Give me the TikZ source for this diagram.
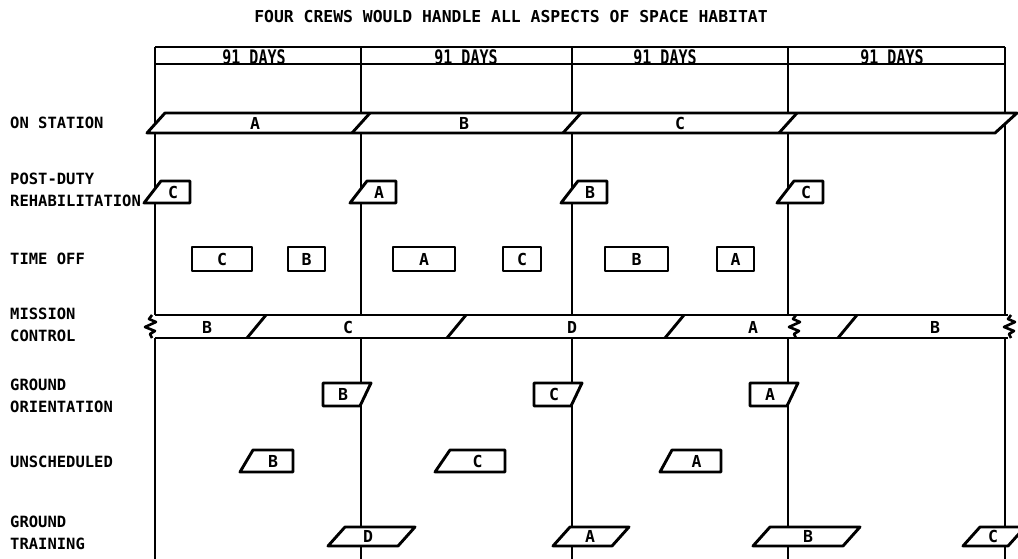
\documentclass[tikz,border=0pt]{standalone}
\usepackage{fontspec}
\usepackage{tikz}
\newfontfamily\chartfont{DejaVu Sans Mono}
\newfontfamily\daysfont[FakeStretch=0.75]{DejaVu Sans Mono}

\begin{document}
\begin{tikzpicture}[x=1pt,y=-1pt,
  frame/.style={line width=2.7pt},
  bar/.style={draw,line width=2.9pt,fill=white,line join=round},
  crew/.style={font=\chartfont\bfseries\fontsize{16.5}{16.5}\selectfont,inner sep=0pt},
  days/.style={font=\daysfont\bfseries\fontsize{20}{20}\selectfont,inner sep=0pt},
  rowlabel/.style={font=\chartfont\bfseries\fontsize{15.5}{22}\selectfont,
    anchor=west,align=left,inner sep=0pt}]
  \useasboundingbox (0,0) rectangle (1018,559);
  \clip (0,0) rectangle (1018,559);

  % title
  \node[font=\chartfont\bfseries\fontsize{16.4}{16.4}\selectfont,inner sep=0pt]
    (title) at (511,17) {FOUR CREWS WOULD HANDLE ALL ASPECTS OF SPACE HABITAT};

  % frame and quarter lines
  \draw[frame] (155,47) -- (1005,47);
  \draw[frame] (155,64) -- (1005,64);
  \foreach \v in {155,361,572,788,1005}
    \draw[frame] (\v,47) -- (\v,559);

  % quarter headings
  \foreach \x [count=\i] in {254,466,665,892}
    \node[days] (days\i) at (\x,57) {91 DAYS};

  % row labels
  \node[rowlabel] (lbl-station) at (10,123) {ON STATION};
  \node[rowlabel] (lbl-post) at (10,190) {POST-DUTY\\REHABILITATION};
  \node[rowlabel] (lbl-off) at (10,259) {TIME OFF};
  \node[rowlabel] (lbl-mission) at (10,325) {MISSION\\CONTROL};
  \node[rowlabel] (lbl-orient) at (10,396) {GROUND\\ORIENTATION};
  \node[rowlabel] (lbl-unsched) at (10,462) {UNSCHEDULED};
  \node[rowlabel] (lbl-training) at (10,533) {GROUND\\TRAINING};

  % on station
  \draw[bar] (147,133) -- (165,113) -- (1017,113) -- (995,133) -- cycle;
  \foreach \v in {361,572,788}
    \draw[bar] ({\v-9},133) -- ({\v+9},113);
  \foreach \x/\l [count=\i] in {255/A,464/B,680/C}
    \node[crew] (station\i) at (\x,123) {\l};

  % post-duty rehabilitation
  \foreach \v/\l [count=\i] in {155/C,361/A,572/B,788/C} {
    \draw[bar] ({\v-11},203) -- ({\v+6},181) -- ({\v+35},181) -- ({\v+35},203) -- cycle;
    \node[crew] (post\i) at ({\v+18},192) {\l};
  }

  % time off
  \foreach \a/\b/\l [count=\i] in {192/252/C,288/325/B,393/455/A,503/541/C,605/668/B,717/754/A} {
    \draw[bar] (\a,247) rectangle (\b,271);
    \node[crew] (off\i) at ({(\a+\b)/2},259) {\l};
  }

  % mission control
  \fill[white] (150,315) rectangle (1010,338);
  \draw[bar] (155,315) -- (1008,315) (155,338) -- (1008,338);
  \foreach \a in {247,447,665,838}
    \draw[bar] (\a,338) -- ({\a+19},315);
  \foreach \z in {152,796,1011}
    \draw[line width=2.6pt,line join=round] (\z,315) -- ({\z-3},319) -- ({\z+4},322)
      -- ({\z-7},327) -- ({\z+3},331) -- ({\z-2},334) -- (\z,338);
  \foreach \x/\l [count=\i] in {207/B,348/C,572/D,753/A,935/B}
    \node[crew] (mission\i) at (\x,327) {\l};

  % ground orientation
  \foreach \v/\l [count=\i] in {361/B,572/C,788/A} {
    \draw[bar] ({\v-38},383) -- ({\v+10},383) -- ({\v-1},406) -- ({\v-38},406) -- cycle;
    \node[crew] (orient\i) at ({\v-18},394) {\l};
  }

  % unscheduled
  \foreach \a/\b/\c/\l [count=\i] in {240/253/293/B,435/450/505/C,660/672/721/A} {
    \draw[bar] (\a,472) -- (\b,450) -- (\c,450) -- (\c,472) -- cycle;
    \node[crew] (unsched\i) at ({(\b+\c)/2},461) {\l};
  }

  % ground training
  \foreach \a/\w/\m/\l [count=\i] in {328/70/368/D,553/59/590/A,753/90/808/B,963/45/993/C} {
    \draw[bar] (\a,546) -- ({\a+17},527) -- ({\a+17+\w},527) -- ({\a+\w},546) -- cycle;
    \node[crew] (training\i) at (\m,536) {\l};
  }
\end{tikzpicture}
\end{document}
